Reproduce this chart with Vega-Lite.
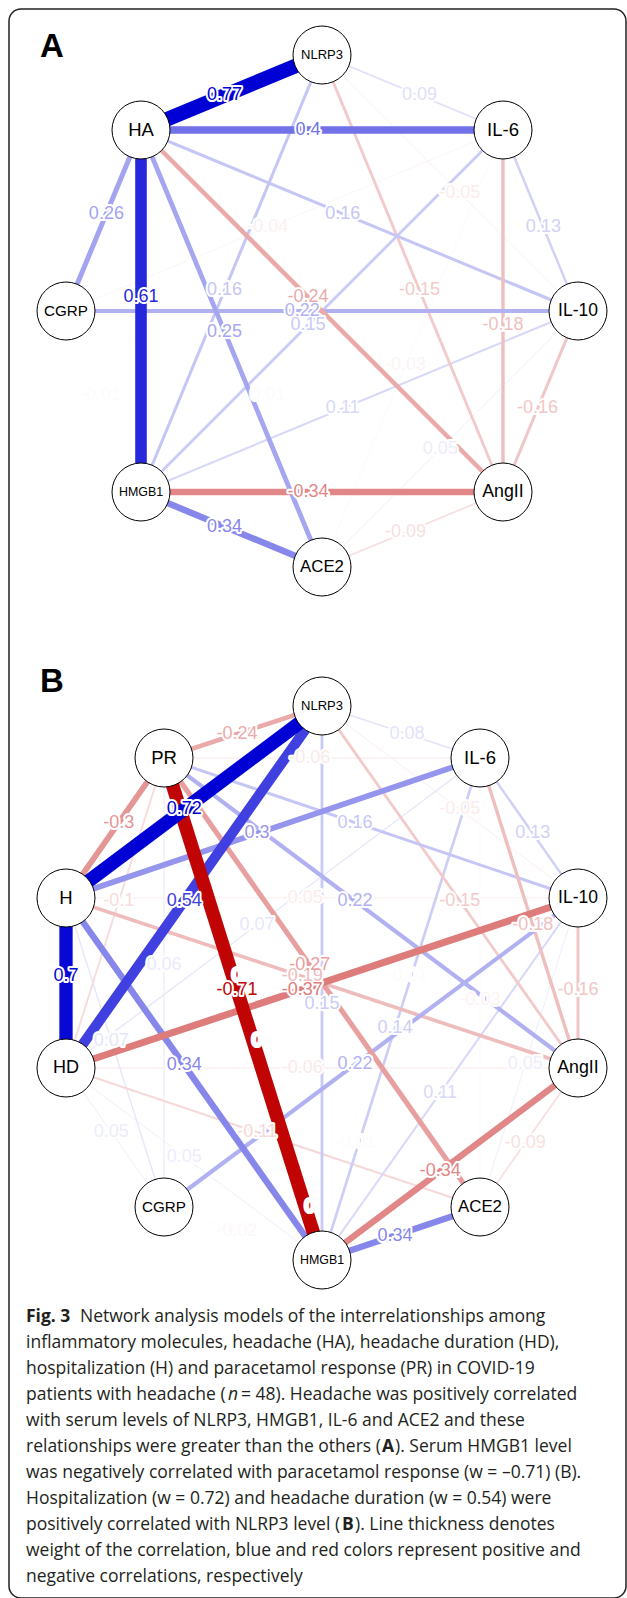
{
  "$schema": "https://vega.github.io/schema/vega-lite/v6.json",
  "width": 617,
  "height": 1589,
  "autosize": {"type": "none"},
  "padding": {"left": 9, "top": 9, "right": 1, "bottom": 0},
  "background": "white",
  "config": {
    "view": {"stroke": "#222", "strokeWidth": 1.5, "cornerRadius": 12},
    "locale": {"number": {"decimal": ".", "thousands": ",", "grouping": [3], "currency": ["$", ""], "minus": "-"}}
  },
  "datasets": {
    "nodes": [
      {"id": "A:NLRP3", "label": "NLRP3", "x": 322, "y": 55},
      {"id": "A:IL-6", "label": "IL-6", "x": 503, "y": 130},
      {"id": "A:IL-10", "label": "IL-10", "x": 578, "y": 311},
      {"id": "A:AngII", "label": "AngII", "x": 503, "y": 492},
      {"id": "A:ACE2", "label": "ACE2", "x": 322, "y": 567},
      {"id": "A:HMGB1", "label": "HMGB1", "x": 141, "y": 492},
      {"id": "A:CGRP", "label": "CGRP", "x": 66, "y": 311},
      {"id": "A:HA", "label": "HA", "x": 141, "y": 130},
      {"id": "B:NLRP3", "label": "NLRP3", "x": 322, "y": 706},
      {"id": "B:IL-6", "label": "IL-6", "x": 480, "y": 758},
      {"id": "B:IL-10", "label": "IL-10", "x": 578, "y": 898},
      {"id": "B:AngII", "label": "AngII", "x": 578, "y": 1068},
      {"id": "B:ACE2", "label": "ACE2", "x": 480, "y": 1207},
      {"id": "B:HMGB1", "label": "HMGB1", "x": 322, "y": 1260},
      {"id": "B:CGRP", "label": "CGRP", "x": 164, "y": 1207},
      {"id": "B:HD", "label": "HD", "x": 66, "y": 1068},
      {"id": "B:H", "label": "H", "x": 66, "y": 898},
      {"id": "B:PR", "label": "PR", "x": 164, "y": 758}
    ],
    "edges": [
      {"a": "A:CGRP", "b": "A:HMGB1", "w": -0.01},
      {"a": "A:CGRP", "b": "A:AngII", "w": 0.01},
      {"a": "A:ACE2", "b": "A:IL-6", "w": -0.03},
      {"a": "A:CGRP", "b": "A:IL-6", "w": -0.04},
      {"a": "A:IL-10", "b": "A:NLRP3", "w": -0.05},
      {"a": "A:ACE2", "b": "A:IL-10", "w": 0.05},
      {"a": "A:IL-6", "b": "A:NLRP3", "w": 0.09},
      {"a": "A:ACE2", "b": "A:AngII", "w": -0.09},
      {"a": "A:HMGB1", "b": "A:IL-10", "w": 0.11},
      {"a": "A:IL-10", "b": "A:IL-6", "w": 0.13},
      {"a": "A:AngII", "b": "A:NLRP3", "w": -0.15},
      {"a": "A:HMGB1", "b": "A:IL-6", "w": 0.15},
      {"a": "A:HMGB1", "b": "A:NLRP3", "w": 0.16},
      {"a": "A:HA", "b": "A:IL-10", "w": 0.16},
      {"a": "A:AngII", "b": "A:IL-10", "w": -0.16},
      {"a": "A:AngII", "b": "A:IL-6", "w": -0.18},
      {"a": "A:CGRP", "b": "A:IL-10", "w": 0.22},
      {"a": "A:HA", "b": "A:AngII", "w": -0.24},
      {"a": "A:HA", "b": "A:ACE2", "w": 0.25},
      {"a": "A:HA", "b": "A:CGRP", "w": 0.26},
      {"a": "A:HMGB1", "b": "A:ACE2", "w": 0.34},
      {"a": "A:HMGB1", "b": "A:AngII", "w": -0.34},
      {"a": "A:HA", "b": "A:IL-6", "w": 0.4},
      {"a": "A:HA", "b": "A:HMGB1", "w": 0.61},
      {"a": "A:HA", "b": "A:NLRP3", "w": 0.77},
      {"a": "B:CGRP", "b": "B:NLRP3", "w": 0.004},
      {"a": "B:H", "b": "B:ACE2", "w": -0.004},
      {"a": "B:CGRP", "b": "B:ACE2", "w": 0.004},
      {"a": "B:ACE2", "b": "B:NLRP3", "w": -0.01},
      {"a": "B:CGRP", "b": "B:AngII", "w": -0.01},
      {"a": "B:CGRP", "b": "B:HMGB1", "w": -0.02},
      {"a": "B:ACE2", "b": "B:IL-6", "w": -0.03},
      {"a": "B:IL-10", "b": "B:NLRP3", "w": -0.05},
      {"a": "B:H", "b": "B:IL-10", "w": -0.05},
      {"a": "B:HD", "b": "B:HMGB1", "w": 0.05},
      {"a": "B:HD", "b": "B:CGRP", "w": 0.05},
      {"a": "B:ACE2", "b": "B:IL-10", "w": 0.05},
      {"a": "B:PR", "b": "B:CGRP", "w": 0.06},
      {"a": "B:PR", "b": "B:IL-6", "w": -0.06},
      {"a": "B:HD", "b": "B:AngII", "w": -0.06},
      {"a": "B:H", "b": "B:CGRP", "w": 0.07},
      {"a": "B:HD", "b": "B:IL-6", "w": 0.07},
      {"a": "B:IL-6", "b": "B:NLRP3", "w": 0.08},
      {"a": "B:ACE2", "b": "B:AngII", "w": -0.09},
      {"a": "B:PR", "b": "B:HD", "w": -0.1},
      {"a": "B:HD", "b": "B:ACE2", "w": -0.11},
      {"a": "B:HMGB1", "b": "B:IL-10", "w": 0.11},
      {"a": "B:IL-10", "b": "B:IL-6", "w": 0.13},
      {"a": "B:HMGB1", "b": "B:IL-6", "w": 0.14},
      {"a": "B:HMGB1", "b": "B:NLRP3", "w": 0.15},
      {"a": "B:AngII", "b": "B:NLRP3", "w": -0.15},
      {"a": "B:PR", "b": "B:IL-10", "w": 0.16},
      {"a": "B:AngII", "b": "B:IL-10", "w": -0.16},
      {"a": "B:AngII", "b": "B:IL-6", "w": -0.18},
      {"a": "B:H", "b": "B:AngII", "w": -0.19},
      {"a": "B:PR", "b": "B:AngII", "w": 0.22},
      {"a": "B:CGRP", "b": "B:IL-10", "w": 0.22},
      {"a": "B:PR", "b": "B:NLRP3", "w": -0.24},
      {"a": "B:PR", "b": "B:ACE2", "w": -0.27},
      {"a": "B:PR", "b": "B:H", "w": -0.3},
      {"a": "B:H", "b": "B:IL-6", "w": 0.3},
      {"a": "B:H", "b": "B:HMGB1", "w": 0.34},
      {"a": "B:HMGB1", "b": "B:AngII", "w": -0.34},
      {"a": "B:HMGB1", "b": "B:ACE2", "w": 0.34},
      {"a": "B:HD", "b": "B:IL-10", "w": -0.37},
      {"a": "B:HD", "b": "B:NLRP3", "w": 0.54},
      {"a": "B:H", "b": "B:HD", "w": 0.7},
      {"a": "B:PR", "b": "B:HMGB1", "w": -0.71},
      {"a": "B:H", "b": "B:NLRP3", "w": 0.72}
    ],
    "panels": [
      {"letter": "A", "x": 52, "y": 47},
      {"letter": "B", "x": 52, "y": 682}
    ],
    "caption": [
      {"style": "bold", "x": 26, "y": 1317, "text": "Fig. 3"},
      {"style": "regular", "x": 80, "y": 1317, "text": "Network analysis models of the interrelationships among"},
      {"style": "regular", "x": 26, "y": 1343, "text": "inflammatory molecules, headache (HA), headache duration (HD),"},
      {"style": "regular", "x": 26, "y": 1369, "text": "hospitalization (H) and paracetamol response (PR) in COVID-19"},
      {"style": "regular", "x": 26, "y": 1395, "text": "patients with headache ("},
      {"style": "italic", "x": 228, "y": 1395, "text": "n"},
      {"style": "regular", "x": 241, "y": 1395, "text": "= 48). Headache was positively correlated"},
      {"style": "regular", "x": 26, "y": 1421, "text": "with serum levels of NLRP3, HMGB1, IL-6 and ACE2 and these"},
      {"style": "regular", "x": 26, "y": 1447, "text": "relationships were greater than the others ("},
      {"style": "bold", "x": 382, "y": 1447, "text": "A"},
      {"style": "regular", "x": 395, "y": 1447, "text": "). Serum HMGB1 level"},
      {"style": "regular", "x": 26, "y": 1473, "text": "was negatively correlated with paracetamol response (w = –0.71) (B)."},
      {"style": "regular", "x": 26, "y": 1499, "text": "Hospitalization (w = 0.72) and headache duration (w = 0.54) were"},
      {"style": "regular", "x": 26, "y": 1525, "text": "positively correlated with NLRP3 level ("},
      {"style": "bold", "x": 342, "y": 1525, "text": "B"},
      {"style": "regular", "x": 355, "y": 1525, "text": "). Line thickness denotes"},
      {"style": "regular", "x": 26, "y": 1551, "text": "weight of the correlation, blue and red colors represent positive and"},
      {"style": "regular", "x": 26, "y": 1577, "text": "negative correlations, respectively"}
    ]
  },
  "layer": [
    {
      "data": {"name": "edges"},
      "transform": [
        {"lookup": "a", "from": {"data": {"name": "nodes"}, "key": "id", "fields": ["x", "y"]}, "as": ["xa", "ya"]},
        {"lookup": "b", "from": {"data": {"name": "nodes"}, "key": "id", "fields": ["x", "y"]}, "as": ["xb", "yb"]}
      ],
      "mark": {"type": "rule", "strokeCap": "butt"},
      "encoding": {
        "x": {"field": "xa", "type": "quantitative", "scale": {"domain": [9, 626], "nice": false, "zero": false}, "axis": null},
        "y": {"field": "ya", "type": "quantitative", "scale": {"domain": [9, 1598], "reverse": true, "nice": false, "zero": false}, "axis": null},
        "x2": {"field": "xb"},
        "y2": {"field": "yb"},
        "color": {"field": "w", "type": "quantitative", "scale": {"domain": [-0.72, 0, 0.72], "range": ["#bf0000", "#ffffff", "#0000d5"], "clamp": true, "interpolate": "rgb"}, "legend": null},
        "strokeWidth": {"field": "w", "type": "quantitative", "scale": {"domain": [-1, 0, 1], "range": [19, 0, 19]}, "legend": null}
      }
    },
    {
      "data": {"name": "edges"},
      "transform": [
        {"fold": ["a", "a", "a", "a", "a", "a", "a", "b", "b", "b", "b", "b", "b"], "as": ["end", "nid"]},
        {"lookup": "nid", "from": {"data": {"name": "nodes"}, "key": "id", "fields": ["x", "y"]}},
        {"aggregate": [{"op": "mean", "field": "x", "as": "mx"}, {"op": "mean", "field": "y", "as": "my"}], "groupby": ["a", "b", "w"]}
      ],
      "mark": {"type": "text", "fill": "white", "stroke": "white", "strokeWidth": 4, "strokeJoin": "round", "font": "Liberation Sans Narrow, Liberation Sans, sans-serif", "fontSize": 18, "baseline": "middle", "align": "center"},
      "encoding": {
        "x": {"field": "mx", "type": "quantitative", "scale": {"domain": [9, 626], "nice": false, "zero": false}, "axis": null},
        "y": {"field": "my", "type": "quantitative", "scale": {"domain": [9, 1598], "reverse": true, "nice": false, "zero": false}, "axis": null},
        "text": {"field": "w", "type": "quantitative", "format": ".2~f"}
      }
    },
    {
      "data": {"name": "edges"},
      "transform": [
        {"fold": ["a", "a", "a", "a", "a", "a", "a", "b", "b", "b", "b", "b", "b"], "as": ["end", "nid"]},
        {"lookup": "nid", "from": {"data": {"name": "nodes"}, "key": "id", "fields": ["x", "y"]}},
        {"aggregate": [{"op": "mean", "field": "x", "as": "mx"}, {"op": "mean", "field": "y", "as": "my"}], "groupby": ["a", "b", "w"]}
      ],
      "mark": {"type": "text", "font": "Liberation Sans Narrow, Liberation Sans, sans-serif", "fontSize": 18, "baseline": "middle", "align": "center"},
      "encoding": {
        "x": {"field": "mx", "type": "quantitative", "scale": {"domain": [9, 626], "nice": false, "zero": false}, "axis": null},
        "y": {"field": "my", "type": "quantitative", "scale": {"domain": [9, 1598], "reverse": true, "nice": false, "zero": false}, "axis": null},
        "text": {"field": "w", "type": "quantitative", "format": ".2~f"},
        "color": {"field": "w", "type": "quantitative", "legend": null}
      }
    },
    {
      "data": {"name": "nodes"},
      "mark": {"type": "point", "shape": "circle", "filled": true, "fill": "white", "stroke": "black", "strokeWidth": 1, "size": 3364, "opacity": 1},
      "encoding": {
        "x": {"field": "x", "type": "quantitative", "scale": {"domain": [9, 626], "nice": false, "zero": false}, "axis": null},
        "y": {"field": "y", "type": "quantitative", "scale": {"domain": [9, 1598], "reverse": true, "nice": false, "zero": false}, "axis": null}
      }
    },
    {
      "data": {"name": "nodes"},
      "mark": {"type": "text", "font": "Liberation Sans", "color": "black", "baseline": "middle", "align": "center"},
      "encoding": {
        "x": {"field": "x", "type": "quantitative", "scale": {"domain": [9, 626], "nice": false, "zero": false}, "axis": null},
        "y": {"field": "y", "type": "quantitative", "scale": {"domain": [9, 1598], "reverse": true, "nice": false, "zero": false}, "axis": null},
        "text": {"field": "label"},
        "size": {"field": "label", "type": "ordinal", "scale": {"type": "ordinal", "domain": ["HA", "IL-6", "PR", "H", "HD", "IL-10", "AngII", "ACE2", "CGRP", "NLRP3", "HMGB1"], "range": [18.5, 18.5, 18.5, 18.5, 18, 17.5, 17.8, 16.8, 15.2, 13, 12.4]}, "legend": null}
      }
    },
    {
      "data": {"name": "panels"},
      "mark": {"type": "text", "font": "Liberation Sans", "fontWeight": "bold", "fontSize": 33, "color": "black", "baseline": "middle", "align": "center"},
      "encoding": {
        "x": {"field": "x", "type": "quantitative", "scale": {"domain": [9, 626], "nice": false, "zero": false}, "axis": null},
        "y": {"field": "y", "type": "quantitative", "scale": {"domain": [9, 1598], "reverse": true, "nice": false, "zero": false}, "axis": null},
        "text": {"field": "letter"}
      }
    },
    {
      "data": {"name": "caption"},
      "transform": [{"filter": "datum.style === 'regular'"}],
      "mark": {"type": "text", "font": "Open Sans", "fontSize": 17.5, "color": "#231f20", "baseline": "middle", "align": "left"},
      "encoding": {
        "x": {"field": "x", "type": "quantitative", "scale": {"domain": [9, 626], "nice": false, "zero": false}, "axis": null},
        "y": {"field": "y", "type": "quantitative", "scale": {"domain": [9, 1598], "reverse": true, "nice": false, "zero": false}, "axis": null},
        "text": {"field": "text"}
      }
    },
    {
      "data": {"name": "caption"},
      "transform": [{"filter": "datum.style === 'bold'"}],
      "mark": {"type": "text", "font": "Open Sans", "fontWeight": "bold", "fontSize": 17.5, "color": "#231f20", "baseline": "middle", "align": "left"},
      "encoding": {
        "x": {"field": "x", "type": "quantitative", "scale": {"domain": [9, 626], "nice": false, "zero": false}, "axis": null},
        "y": {"field": "y", "type": "quantitative", "scale": {"domain": [9, 1598], "reverse": true, "nice": false, "zero": false}, "axis": null},
        "text": {"field": "text"}
      }
    },
    {
      "data": {"name": "caption"},
      "transform": [{"filter": "datum.style === 'italic'"}],
      "mark": {"type": "text", "font": "Open Sans", "fontStyle": "italic", "fontSize": 17.5, "color": "#231f20", "baseline": "middle", "align": "left"},
      "encoding": {
        "x": {"field": "x", "type": "quantitative", "scale": {"domain": [9, 626], "nice": false, "zero": false}, "axis": null},
        "y": {"field": "y", "type": "quantitative", "scale": {"domain": [9, 1598], "reverse": true, "nice": false, "zero": false}, "axis": null},
        "text": {"field": "text"}
      }
    }
  ]
}
